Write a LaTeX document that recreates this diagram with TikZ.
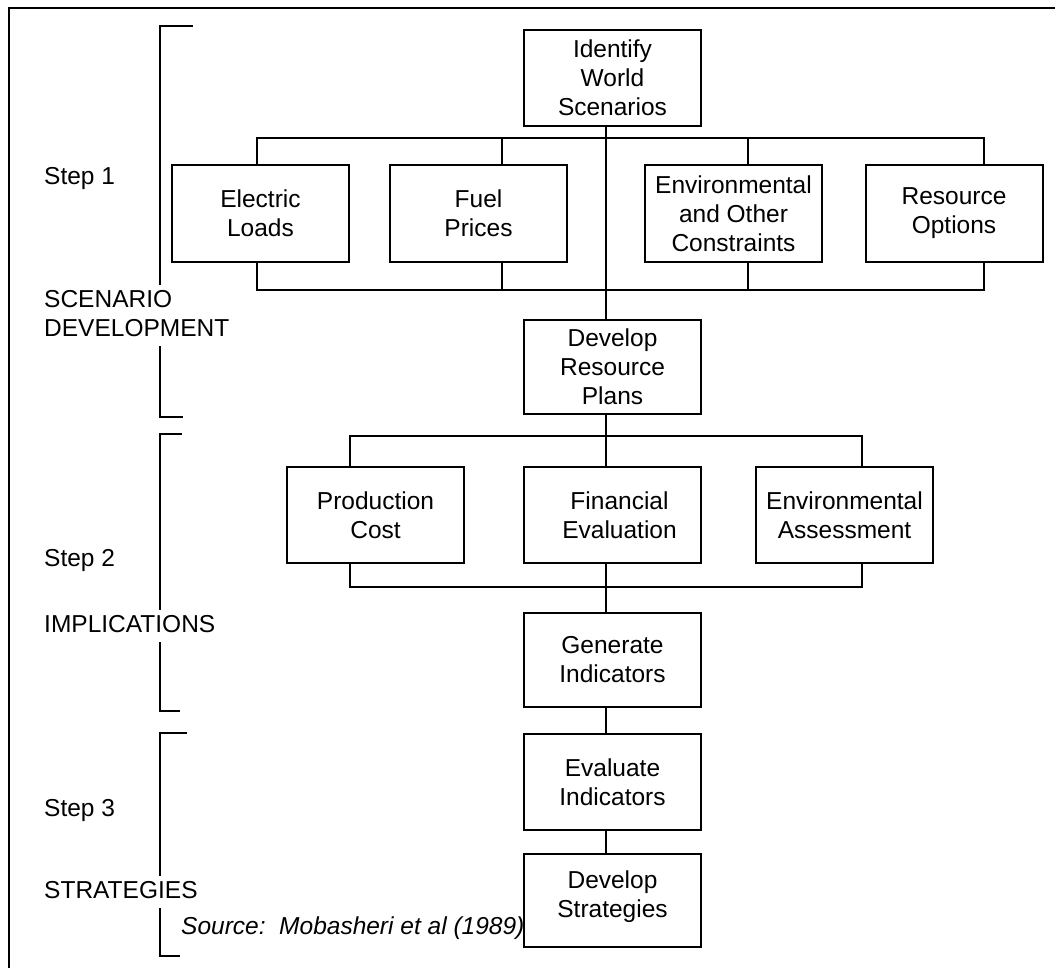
\documentclass[tikz,border=0pt]{standalone}
\usepackage{fontspec}
\setmainfont{Liberation Sans}
\usetikzlibrary{calc}
\begin{document}
\frenchspacing
\begin{tikzpicture}[x=1pt,y=-1pt,
  txt/.style={font=\fontsize{24.5}{29}\selectfont},
  box/.style={txt, draw, line width=2pt, minimum width=177pt, minimum height=96pt,
    inner sep=0pt, align=center, fill=white},
  link/.style={line width=2pt, line join=miter},
  bracket/.style={line width=2pt},
  steplabel/.style={txt, anchor=base west, inner sep=1.5pt},
  phaselabel/.style={txt, anchor=north west, inner sep=1.5pt, fill=white, align=left},
  frame/.style={line width=2.6pt}
]
% page area
\useasboundingbox (0,0) rectangle (1055,967);
\fill[white] (0,0) rectangle (1055,967);
\clip (0,0) rectangle (1055,967);

% outer frame (only its top and left sides fall on the page)
\draw[frame] (9,1000) -- (9,8) -- (1100,8);

% phase brackets
\draw[bracket] (193,26) -- (160,26) -- (160,417) -- (183,417);
\draw[bracket] (182,434) -- (160,434) -- (160,711) -- (180,711);
\draw[bracket] (187,733) -- (160,733) -- (160,956) -- (180,956);

% step and phase labels
\node[steplabel] (s1) at (42.5,184) {Step 1};
\node[phaselabel] (p1) at (42.5,285.2) {\strut SCENARIO\\\strut DEVELOPMENT};
\node[steplabel] (s2) at (42.5,566) {Step 2};
\node[phaselabel] (p2) at (42.5,610.2) {\strut IMPLICATIONS};
\node[steplabel] (s3) at (42.5,816) {Step 3};
\node[phaselabel] (p3) at (42.5,876.2) {\strut STRATEGIES};
\node[steplabel, font=\fontsize{24.5}{29}\selectfont\itshape] (src) at (179.5,934)
  {Source:~~Mobasheri et al (1989)};

% process boxes
\node[box] (ident) at (612.5,78) {Identify\\World\\Scenarios};
\node[box, minimum height=97pt] (elec) at (260.5,213.5) {Electric\\Loads};
\node[box, minimum height=97pt] (fuel) at (478.5,213.5) {Fuel\\Prices};
\node[box, minimum height=97pt] (env) at (733.5,213.5) {Environmental\\and Other\\Constraints};
\node[box, minimum height=97pt] (res) at (954,213.5) {Resource\\Options};
\node[box, minimum height=94pt] (dev) at (612.5,367) {Develop\\Resource\\Plans};
\node[box] (prod) at (375.5,515) {Production\\Cost};
\node[box] (fin) at (612.5,515) {\hspace*{14pt}Financial\\\hspace*{14pt}Evaluation};
\node[box] (enva) at (844.5,515) {Environmental\\Assessment};
\node[box, minimum height=94pt] (gen) at (612.5,660) {Generate\\Indicators};
\node[box] (evali) at (612.5,782) {Evaluate\\Indicators};
\node[box, minimum height=93pt, text depth=12pt] (devs) at (612.5,900.5) {Develop\\Strategies};

% bus positions
\coordinate (spine) at (606,0);
\coordinate (c1) at (257,138);
\coordinate (c2) at (502,138);
\coordinate (c3) at (748,138);
\coordinate (c4) at (984,138);
\coordinate (d1) at (257,290);
\coordinate (d2) at (502,290);
\coordinate (d3) at (748,290);
\coordinate (d4) at (984,290);
\coordinate (e1) at (350,436);
\coordinate (e3) at (862,436);
\coordinate (f1) at (350,587);
\coordinate (f3) at (862,587);

% scenario buses
\draw[link] (elec.north -| c1) -- (c1) -- (c4) -- (res.north -| c4);
\draw[link] (c2) -- (fuel.north -| c2);
\draw[link] (c3) -- (env.north -| c3);
\draw[link] (elec.south -| d1) -- (d1) -- (d4) -- (res.south -| d4);
\draw[link] (fuel.south -| d2) -- (d2);
\draw[link] (env.south -| d3) -- (d3);
\draw[link] (ident.south -| spine) -- (dev.north -| spine);

% implication buses
\draw[link] (prod.north -| e1) -- (e1) -- (e3) -- (enva.north -| e3);
\draw[link] (prod.south -| f1) -- (f1) -- (f3) -- (enva.south -| f3);
\draw[link] (dev.south -| spine) -- (fin.north -| spine);
\draw[link] (fin.south -| spine) -- (gen.north -| spine);
\draw[link] (gen.south -| spine) -- (evali.north -| spine);
\draw[link] (evali.south -| spine) -- (devs.north -| spine);
\end{tikzpicture}
\end{document}
